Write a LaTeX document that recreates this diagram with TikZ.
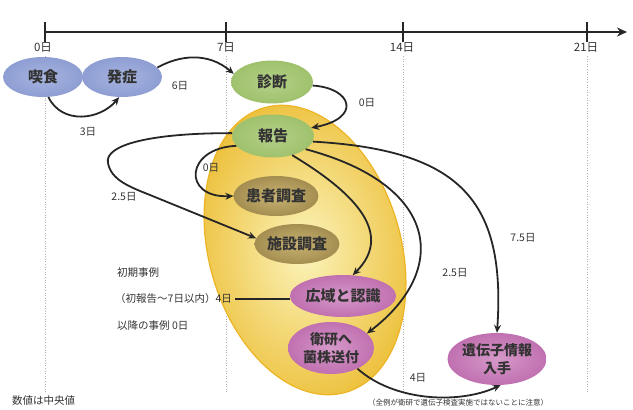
\documentclass[tikz,border=0pt]{standalone}
\usepackage{fontspec}
\setmainfont{Noto Sans CJK JP}
\usetikzlibrary{shapes.geometric,arrows.meta}
\definecolor{blueE}{HTML}{8E9ED3}
\definecolor{blueI}{HTML}{A6B4DF}
\definecolor{greenE}{HTML}{9FC16C}
\definecolor{greenI}{HTML}{B4D189}
\definecolor{tanE}{HTML}{A48D50}
\definecolor{tanI}{HTML}{C8B473}
\definecolor{pinkE}{HTML}{C070B0}
\definecolor{pinkI}{HTML}{D699C9}
\definecolor{yelE}{HTML}{EBBA28}
\definecolor{yelI}{HTML}{FBF4BC}
\definecolor{txt}{HTML}{333333}
\tikzset{
  ev/.style={ellipse, inner sep=0pt, font=\fontsize{15}{18}\selectfont\bfseries, text=txt, align=center},
  bluenode/.style={ev, inner color=blueI, outer color=blueE, minimum width=80pt, minimum height=40pt},
  greennode/.style={ev, inner color=greenI, outer color=greenE, minimum width=82pt, minimum height=43pt},
  tannode/.style={ev, inner color=tanI, outer color=tanE, minimum width=80pt, minimum height=40pt},
  pinknode/.style={ev, inner color=pinkI, outer color=pinkE, minimum width=84pt, minimum height=42pt},
  twoline/.style={font=\fontsize{14}{18}\selectfont\bfseries, minimum height=52pt},
  conn/.style={line width=1.8pt, draw=black!85, -{Stealth[length=8pt,width=7pt]}},
  lbl/.style={font=\fontsize{10.5}{12}\selectfont, text=txt, inner sep=0pt},
  guide/.style={draw=black!30, dotted, line width=0.6pt},
}
\begin{document}
\begin{tikzpicture}[x=1pt,y=-1pt]
\useasboundingbox (0,0) rectangle (633,410);
% timeline
\draw[line width=2.6pt, draw=black!85, -{Stealth[length=10pt,width=9pt]}] (45,32) -- (627,32);
\foreach \x in {45,226,403,587} {
  \draw[line width=1.4pt, draw=black!85] (\x,22) -- (\x,42);
  \draw[guide] (\x,56) -- (\x,392);
}
\node[lbl, font=\fontsize{11.5}{13}\selectfont] (d0) at (43,47) {0日};
\node[lbl, font=\fontsize{11.5}{13}\selectfont] (d7) at (226,47) {7日};
\node[lbl, font=\fontsize{11.5}{13}\selectfont] (d14) at (402,47) {14日};
\node[lbl, font=\fontsize{11.5}{13}\selectfont] (d21) at (586,47) {21日};
% big yellow ellipse
\node[ellipse, minimum width=192pt, minimum height=296pt, rotate=16,
      inner color=yelI, outer color=yelE!90, draw=yelE!90!orange, line width=1.2pt] (big) at (305,250) {};
% nodes
\node[bluenode] (kis) at (43,77) {喫食};
\node[bluenode] (hat) at (122,77) {発症};
\node[greennode] (shin) at (272,82) {診断};
\node[greennode] (hok) at (273,136) {報告};
\node[tannode] (kan) at (276,196) {患者調査};
\node[tannode, minimum width=82pt] (shi) at (297,244) {施設調査};
\node[pinknode] (kou) at (343,296) {広域と認識};
\node[pinknode, twoline, minimum width=86pt] (eik) at (331,348) {衛研へ\\菌株送付};
\node[pinknode, twoline, minimum width=92pt] (iden) at (497,359) {遺伝子情報\\入手};
% connectors
\draw[conn] (kis.-75) .. controls (62,125) and (100,120) .. (hat.-98);
\draw[conn] (hat.15) .. controls (180,55) and (208,52) .. (shin.168);
\draw[conn] (shin.-5) .. controls (352,88) and (362,118) .. (hok.12);
\draw[conn] (hok.195) .. controls (185,148) and (182,198) .. (kan.180);
\draw[conn] (hok.176) .. controls (150,133) and (104,145) .. (108,163)
   .. controls (111,180) and (130,187) .. (150,195) -- (shi.172);
\draw[conn] (hok.-45) .. controls (350,190) and (396,232) .. (kou.65);
\draw[conn] (hok.-22) .. controls (440,185) and (450,270) .. (eik.22);
\draw[conn] (hok.-8) .. controls (460,150) and (506,200) .. (iden.north);
\draw[conn] (eik.-38) .. controls (395,402) and (460,404) .. (iden.-82);
% connector labels
\node[lbl] (l3) at (88,132) {3日};
\node[lbl] (l6) at (180,86) {6日};
\node[lbl] (l0a) at (367,103) {0日};
\node[lbl] (l0b) at (211,168) {0日};
\node[lbl] (l25a) at (124,197) {2.5日};
\node[lbl] (l75) at (523,238) {7.5日};
\node[lbl] (l25b) at (455,273) {2.5日};
\node[lbl] (l4) at (418,378) {4日};
% explanatory texts
\node[lbl, anchor=west] (t1) at (117,273) {初期事例};
\node[lbl, anchor=west] (t2) at (115,299) {（初報告～7日以内）4日};
\node[lbl, anchor=west] (t3) at (117,326) {以降の事例 0日};
\draw[line width=1.2pt, draw=black!85] (t2.east) ++(3,0) coordinate (t2e) -- (kou.west |- t2e);
\node[lbl, anchor=west] (note1) at (12,401) {数値は中央値};
\node[lbl, font=\fontsize{7.5}{9}\selectfont] (note2) at (458,403) {（全例が衛研で遺伝子検査実施ではないことに注意）};
\end{tikzpicture}
\end{document}
